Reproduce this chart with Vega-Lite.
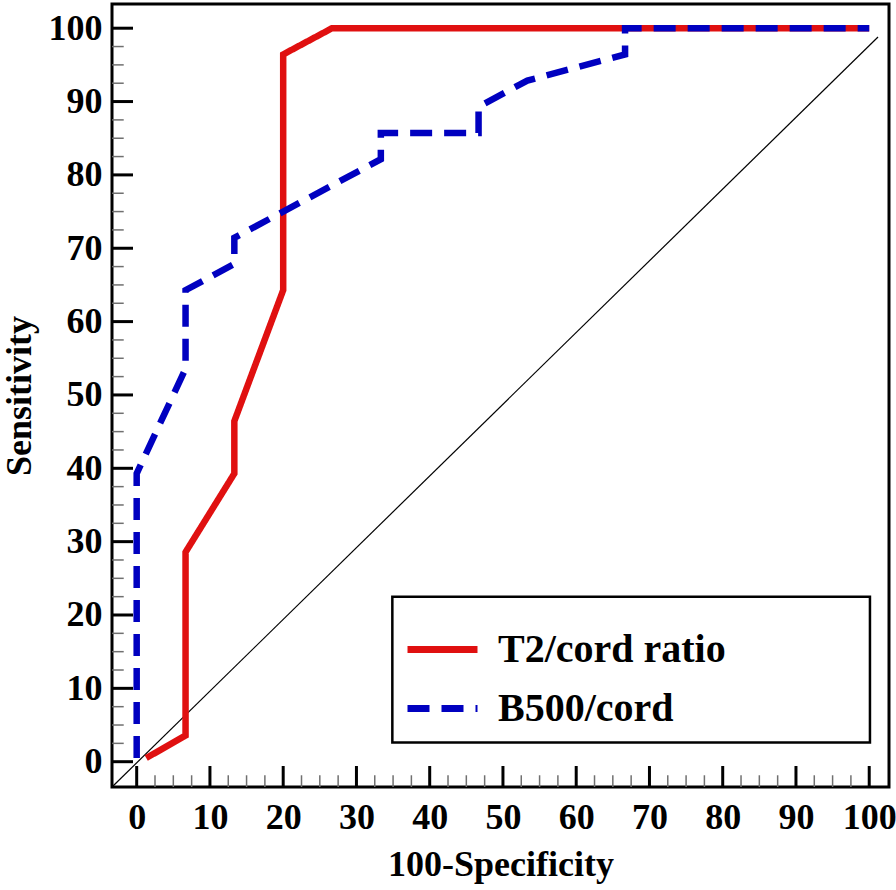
{
  "$schema": "https://vega.github.io/schema/vega-lite/v6.json",
  "autosize": {"type": "none"},
  "width": 777,
  "height": 783,
  "padding": {"left": 112, "top": 4, "right": 7, "bottom": 103},
  "background": "white",
  "datasets": {
    "major": [{"v": 0}, {"v": 10}, {"v": 20}, {"v": 30}, {"v": 40}, {"v": 50}, {"v": 60}, {"v": 70}, {"v": 80}, {"v": 90}, {"v": 100}],
    "minor": [{"v": 2.5}, {"v": 5}, {"v": 7.5}, {"v": 12.5}, {"v": 15}, {"v": 17.5}, {"v": 22.5}, {"v": 25}, {"v": 27.5}, {"v": 32.5}, {"v": 35}, {"v": 37.5}, {"v": 42.5}, {"v": 45}, {"v": 47.5}, {"v": 52.5}, {"v": 55}, {"v": 57.5}, {"v": 62.5}, {"v": 65}, {"v": 67.5}, {"v": 72.5}, {"v": 75}, {"v": 77.5}, {"v": 82.5}, {"v": 85}, {"v": 87.5}, {"v": 92.5}, {"v": 95}, {"v": 97.5}]
  },
  "config": {
    "view": {"stroke": "black", "strokeWidth": 3},
    "font": "Liberation Serif",
    "axis": {
      "grid": false,
      "domain": false,
      "ticks": false,
      "tickSize": 0,
      "labelFont": "Liberation Serif",
      "labelFontWeight": "bold",
      "labelFontSize": 36,
      "labelColor": "black",
      "titleFont": "Liberation Serif",
      "titleFontWeight": "bold",
      "titleFontSize": 36,
      "titleColor": "black"
    }
  },
  "layer": [
    {
      "data": {"values": [{"a": 1}]},
      "mark": {"type": "rect", "fill": "white", "stroke": "black", "strokeWidth": 2.5},
      "encoding": {
        "x": {"datum": 34.9, "type": "quantitative"},
        "x2": {"datum": 100.1},
        "y": {"datum": 22.5, "type": "quantitative"},
        "y2": {"datum": 2.6}
      }
    },
    {
      "data": {"values": [{"x": -3.37, "y": -3.45}, {"x": 101.2, "y": 98.8}]},
      "mark": {"type": "line", "color": "black", "strokeWidth": 1.2},
      "encoding": {
        "x": {"field": "x", "type": "quantitative", "title": "100-Specificity"},
        "y": {"field": "y", "type": "quantitative", "title": "Sensitivity"}
      }
    },
    {
      "data": {"name": "major"},
      "mark": {"type": "rule", "color": "black", "strokeWidth": 3},
      "encoding": {
        "x": {"field": "v", "type": "quantitative", "title": "100-Specificity"},
        "y": {"datum": -3.45, "type": "quantitative", "title": "Sensitivity"},
        "y2": {"datum": -0.59}
      }
    },
    {
      "data": {"name": "minor"},
      "mark": {"type": "rule", "color": "#707070", "strokeWidth": 1.5},
      "encoding": {
        "x": {"field": "v", "type": "quantitative", "title": "100-Specificity"},
        "y": {"datum": -3.45, "type": "quantitative", "title": "Sensitivity"},
        "y2": {"datum": -1.85}
      }
    },
    {
      "data": {"name": "major"},
      "mark": {"type": "rule", "color": "black", "strokeWidth": 3},
      "encoding": {
        "y": {"field": "v", "type": "quantitative", "title": "Sensitivity"},
        "x": {"datum": -3.37, "type": "quantitative", "title": "100-Specificity"},
        "x2": {"datum": -0.5}
      }
    },
    {
      "data": {"name": "minor"},
      "mark": {"type": "rule", "color": "#707070", "strokeWidth": 1.5},
      "encoding": {
        "y": {"field": "v", "type": "quantitative", "title": "Sensitivity"},
        "x": {"datum": -3.37, "type": "quantitative", "title": "100-Specificity"},
        "x2": {"datum": -1.77}
      }
    },
    {
      "data": {"values": [
        {"series": "T2/cord ratio", "i": 0, "x": 1.3, "y": 0.5},
        {"series": "T2/cord ratio", "i": 1, "x": 6.67, "y": 3.57},
        {"series": "T2/cord ratio", "i": 2, "x": 6.67, "y": 28.57},
        {"series": "T2/cord ratio", "i": 3, "x": 13.33, "y": 39.29},
        {"series": "T2/cord ratio", "i": 4, "x": 13.33, "y": 46.43},
        {"series": "T2/cord ratio", "i": 5, "x": 20, "y": 64.29},
        {"series": "T2/cord ratio", "i": 6, "x": 20, "y": 96.43},
        {"series": "T2/cord ratio", "i": 7, "x": 26.67, "y": 100},
        {"series": "T2/cord ratio", "i": 8, "x": 100, "y": 100},
        {"series": "B500/cord", "i": 0, "x": 0, "y": 0.5},
        {"series": "B500/cord", "i": 1, "x": 0, "y": 39.29},
        {"series": "B500/cord", "i": 2, "x": 6.67, "y": 53.57},
        {"series": "B500/cord", "i": 3, "x": 6.67, "y": 64.29},
        {"series": "B500/cord", "i": 4, "x": 13.33, "y": 67.86},
        {"series": "B500/cord", "i": 5, "x": 13.33, "y": 71.43},
        {"series": "B500/cord", "i": 6, "x": 20, "y": 75},
        {"series": "B500/cord", "i": 7, "x": 26.67, "y": 78.57},
        {"series": "B500/cord", "i": 8, "x": 33.33, "y": 82.14},
        {"series": "B500/cord", "i": 9, "x": 33.33, "y": 85.71},
        {"series": "B500/cord", "i": 10, "x": 46.67, "y": 85.71},
        {"series": "B500/cord", "i": 11, "x": 46.67, "y": 89.29},
        {"series": "B500/cord", "i": 12, "x": 53.33, "y": 92.86},
        {"series": "B500/cord", "i": 13, "x": 66.67, "y": 96.43},
        {"series": "B500/cord", "i": 14, "x": 66.67, "y": 100},
        {"series": "B500/cord", "i": 15, "x": 100, "y": 100}
      ]},
      "mark": {"type": "line", "strokeWidth": 6.5, "strokeJoin": "miter"},
      "encoding": {
        "x": {
          "field": "x", "type": "quantitative",
          "scale": {"domain": [-3.37, 102.7], "nice": false, "zero": false},
          "axis": {
            "title": "100-Specificity",
            "values": [0, 10, 20, 30, 40, 50, 60, 70, 80, 90, 100],
            "labelPadding": 13,
            "labelOverlap": false,
            "titlePadding": 12
          }
        },
        "y": {
          "field": "y", "type": "quantitative",
          "scale": {"domain": [-3.45, 103.3], "nice": false, "zero": false},
          "axis": {
            "title": "Sensitivity",
            "values": [0, 10, 20, 30, 40, 50, 60, 70, 80, 90, 100],
            "labelPadding": 10,
            "labelOverlap": false,
            "titlePadding": 10
          }
        },
        "order": {"field": "i", "type": "quantitative"},
        "color": {
          "field": "series", "type": "nominal",
          "scale": {"domain": ["T2/cord ratio", "B500/cord"], "range": ["#e01010", "#0000c0"]},
          "legend": {
            "orient": "none",
            "legendX": 292,
            "legendY": 607,
            "title": null,
            "symbolType": "stroke",
            "symbolSize": 4900,
            "symbolStrokeWidth": 7,
            "labelFont": "Liberation Serif",
            "labelFontWeight": "bold",
            "labelFontSize": 40,
            "labelColor": "black",
            "labelOffset": 17,
            "labelLimit": 400,
            "rowPadding": -24,
            "padding": 0
          }
        },
        "strokeDash": {
          "field": "series", "type": "nominal",
          "scale": {"domain": ["T2/cord ratio", "B500/cord"], "range": [[1, 0], [22, 12]]},
          "legend": null
        }
      }
    }
  ]
}
